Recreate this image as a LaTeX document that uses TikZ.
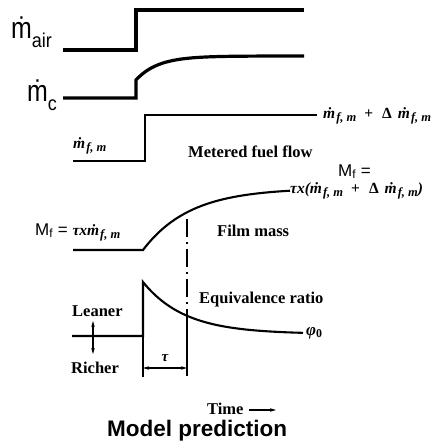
\documentclass[tikz,border=0pt]{standalone}
\usepackage{fontspec}
\setmainfont{Liberation Serif}
\newfontfamily\arialf{Liberation Sans}
\usetikzlibrary{arrows.meta}
\newcommand\mfm{\.{m}\kern1pt\raisebox{-3pt}{\fontsize{12.5}{12.5}\selectfont f,\ m}}
\newcommand\plusdelta{\hspace{8pt}{\upshape+}\hspace{9pt}{\upshape Δ}\hspace{6pt}}
\begin{document}
\begin{tikzpicture}[x=1pt,y=-1pt,
  bigline/.style={line width=3.2pt},
  fuel/.style={line width=2.5pt},
  sig/.style={line width=2.1pt},
  thinl/.style={line width=1.1pt},
  tip/.style={-{Stealth[length=6pt,width=3.5pt]}},
  lbl/.style={inner sep=0pt, anchor=base west},
  bftext/.style={font=\bfseries\fontsize{16.5}{16.5}\selectfont},
  mth/.style={font=\bfseries\itshape\fontsize{15.5}{15.5}\selectfont},
  sanslbl/.style={font=\arialf\fontsize{17}{17}\selectfont}]
\useasboundingbox (0,0) rectangle (441,444);

% m_air
\node[lbl, font=\arialf\fontsize{30}{30}\selectfont] (lair) at (11,39)
  {\scalebox{0.83}[1]{\.{m}}\raisebox{-9pt}{\fontsize{20}{20}\selectfont\scalebox{0.9}[1]{air}}};
\draw[bigline] (63,50) -- (136,50) -- (136,10) -- (304,10);

% m_c
\node[lbl, font=\arialf\fontsize{30}{30}\selectfont] (lc) at (27,101)
  {\scalebox{0.83}[1]{\.{m}}\raisebox{-9pt}{\fontsize{20}{20}\selectfont\scalebox{0.9}[1]{c}}};
\draw[bigline] (63,98) -- (136,98) -- (136,80) -- plot[domain=0:168,samples=80] ({136+\x},{80-24*(1-exp(-\x/22))});

% metered fuel flow
\draw[fuel] (73,161) -- (145,161) -- (145,115) -- (317,115);
\node[lbl, mth] (mf0) at (73,148) {\mfm};
\node[lbl, mth] (mf1) at (323,118) {\mfm\plusdelta\mfm};
\node[lbl, bftext] (mff) at (188,157) {Metered fuel flow};

% film mass
\node[lbl, sanslbl] (Mf1) at (338,176) {M\textsubscript{f} =};
\node[lbl, mth] (Mf1b) at (290,193) {τx(\mfm\plusdelta\mfm)};
\draw[sig] (73,250) -- (143,250) -- plot[domain=0:147,samples=80] ({143+\x},{250-62*(1-exp(-\x/47))});
\node[lbl] (Mf0) at (35,235) {{\arialf\fontsize{17}{17}\selectfont M\textsubscript{f} = }{\bfseries\itshape\fontsize{15.5}{15.5}\selectfont τx\mfm}};
\node[lbl, bftext] (fm) at (217,236) {Film mass};

% equivalence ratio
\draw[sig] (72,336) -- (143,336) -- (143,282) -- plot[domain=0:160,samples=80] ({143+\x},{282+52*(1-exp(-\x/42))});
\node[anchor=west, inner sep=0pt, font=\bfseries\itshape\fontsize{17}{17}\selectfont] (phi) at (306,333) {φ\textsubscript{\upshape 0}};
\node[lbl, bftext] (er) at (199,303) {Equivalence ratio};
\node[lbl, bftext] (lean) at (72,316) {Leaner};
\node[lbl, bftext] (rich) at (71,373) {Richer};
\coordinate (lr) at (93,336);
\coordinate (lu) at (93,321);
\coordinate (ld) at (93,354);
\draw[thinl, tip] (lr) -- (lu);
\draw[thinl, tip] (lr) -- (ld);

% tau markers
\draw[thinl] (143,336) -- (143,377);
\draw[thinl, dash pattern=on 18pt off 5pt on 2pt off 5pt] (187,219) -- (187,312);
\draw[thinl] (187,312) -- (187,376);
\coordinate (ta) at (143,368);
\coordinate (tb) at (187,368);
\draw[thinl, {Stealth[length=6pt,width=3.5pt]}-{Stealth[length=6pt,width=3.5pt]}] (ta) -- (tb);
\node[font=\bfseries\itshape\fontsize{15}{15}\selectfont, inner sep=0pt] (tau) at (165,358) {τ};

% time
\node[lbl, bftext] (time) at (207,414) {Time};
\coordinate (t1) at (249,410);
\coordinate (t2) at (276,410);
\draw[thinl, tip] (t1) -- (t2);
\node[lbl, font=\arialf\bfseries\fontsize{22.5}{22.5}\selectfont] (mp) at (107,436) {Model prediction};
\end{tikzpicture}
\end{document}
